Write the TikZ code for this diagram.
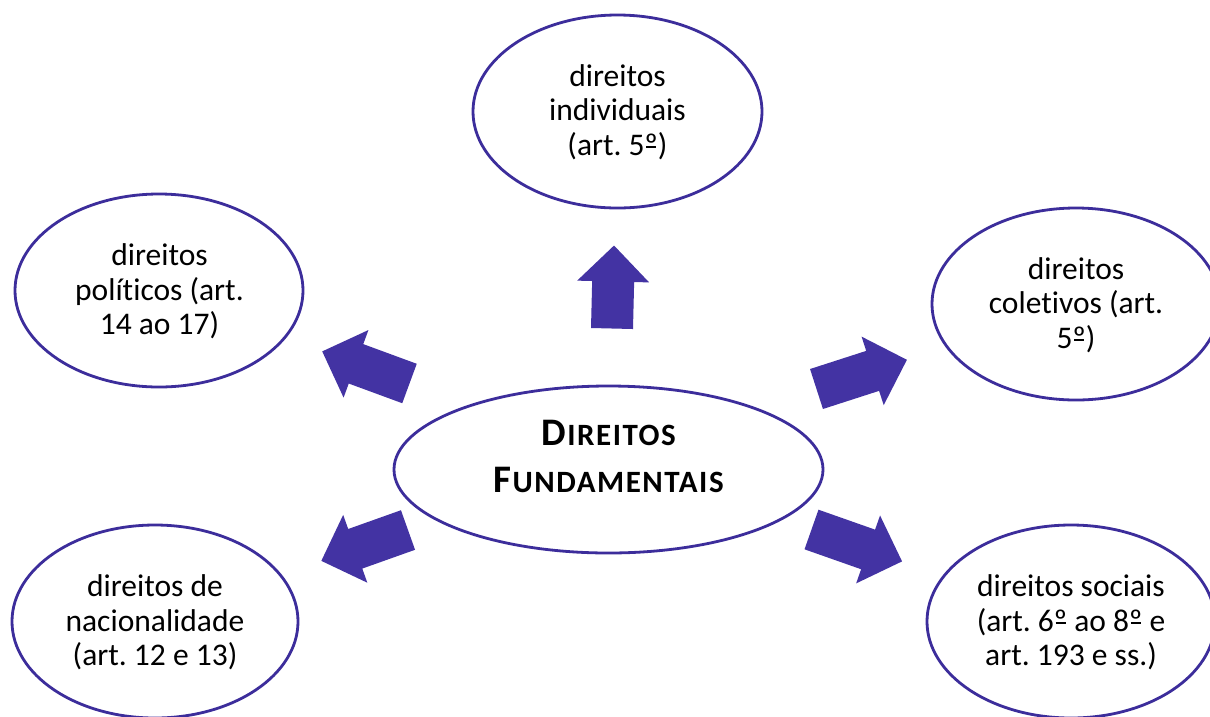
\documentclass[tikz,border=0pt]{standalone}
\usepackage{fontspec}
\setmainfont{Carlito}[Ligatures=NoCommon]
\usetikzlibrary{shapes.geometric}
\definecolor{edgecol}{RGB}{60,45,155}
\definecolor{arrowcol}{RGB}{67,51,163}
\frenchspacing
\tikzset{
  bubble/.style={ellipse, draw=edgecol, line width=2.8pt, fill=white, inner sep=0pt},
  lbl/.style={align=center, inner sep=0pt, font=\fontsize{31.5}{34.5}\selectfont\frenchspacing},
  titlelbl/.style={align=center, inner sep=0pt, font=\fontsize{39}{47}\selectfont\bfseries},
  blockarrow/.style={fill=arrowcol},
}
\newcommand\tstrut{\rule{0pt}{24pt}}
\newcommand\bstrut{\rule[-8pt]{0pt}{8pt}}
\newcommand\sm[1]{{\fontsize{31}{47}\selectfont\addfontfeature{LetterSpace=5}#1}}
\newcommand\om{\setbox0\hbox{º}\rlap{\kern0.12\wd0\rule[7.5pt]{0.76\wd0}{1.5pt}}\box0}
\newcommand\blockarr[3]{%
  \fill[blockarrow, shift={(#1)}, rotate=#2]
    (0,-21) -- ({#3-36},-21) -- ({#3-36},-36) -- (#3,0) --
    ({#3-36},36) -- ({#3-36},21) -- (0,21) -- cycle;}
\begin{document}
\begin{tikzpicture}[x=1pt,y=-1pt]
\useasboundingbox (0,0) rectangle (1210,716);
\clip (0,0) rectangle (1210,716);
\fill[white] (0,0) rectangle (1210,716);

% ellipses
\node[bubble, minimum width=429pt, minimum height=167pt] (c) at (608.5,469.5) {};
\node[bubble, minimum width=289pt, minimum height=193pt] (top) at (617.5,111.5) {};
\node[bubble, minimum width=288pt, minimum height=193pt] (ul) at (159,290.5) {};
\node[bubble, minimum width=288pt, minimum height=192pt] (ur) at (1076,304) {};
\node[bubble, minimum width=288pt, minimum height=193pt] (lr) at (1071,621.5) {};
\node[bubble, minimum width=286pt, minimum height=193pt] (ll) at (155,621.5) {};

% labels
\node[titlelbl] (ct) at (608.5,454.5) {\rule{0pt}{30pt}D\kern1.5pt\sm{IREITOS}\\F\kern1.5pt\sm{UNDAMENTAIS}\rule[-2pt]{0pt}{2pt}};
\node[lbl] (ttop) at (617.5,112.5) {\tstrut direitos\\individuais\\(art. 5\om)\bstrut};
\node[lbl] (tul) at (159.5,292) {\tstrut direitos\\políticos (art.\\14 ao 17)\bstrut};
\node[lbl] (tur) at (1076,305.5) {\tstrut direitos\\coletivos (art.\\5\om)\bstrut};
\node[lbl] (tlr) at (1071,623) {\tstrut direitos sociais\\(art. 6\om{} ao 8\om{} e\\art. 193 e ss.)\bstrut};
\node[lbl] (tll) at (155,623) {\tstrut direitos de\\nacionalidade\\(art. 12 e 13)\bstrut};

% block arrows
\coordinate (aU) at (612,328.5);
\coordinate (aUL) at (409.5,383.5);
\coordinate (aUR) at (816.5,389);
\coordinate (aLR) at (811.5,529.5);
\coordinate (aLL) at (408,530);
\blockarr{aU}{88.6}{83}
\blockarr{aUL}{159.8}{93}
\blockarr{aUR}{17.9}{95}
\blockarr{aLR}{-19.4}{96}
\blockarr{aLL}{199.6}{92}
\end{tikzpicture}
\end{document}
